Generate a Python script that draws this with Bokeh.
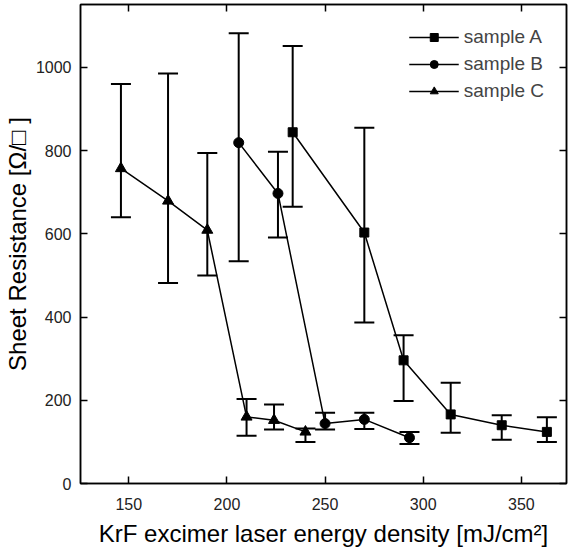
from bokeh.plotting import figure
from bokeh.models import LinearAxis, Whisker, TeeHead, ColumnDataSource, Legend, CustomJSTickFormatter
from bokeh.embed import file_html
from bokeh.resources import INLINE

# data
A_x = [233.5, 270, 290, 314, 340, 363]
A_y = [844, 603, 296, 166, 140, 124]
A_hi = [1051, 855, 356, 242, 164, 159]
A_lo = [665, 387, 198, 122, 105, 100]

B_x = [206, 226, 250, 270, 293]
B_y = [819, 697, 144, 154, 110]
B_hi = [1082, 797, 170, 170, 124]
B_lo = [534, 591, 130, 131, 95]

C_x = [146, 170, 190, 210, 224, 240]
C_y = [757, 679, 609, 160, 152, 124]
C_hi = [960, 985, 794, 203, 190, 132]
C_lo = [640, 482, 500, 115, 130, 100]

x_ticks = [150, 200, 250, 300, 350]
y_ticks = [0, 200, 400, 600, 800, 1000]

FONT = "Liberation Sans"

p = figure(frame_width=486, frame_height=479, x_range=(125.4, 373), y_range=(0, 1151),
           output_backend="svg", toolbar_location=None,
           min_border_left=75, min_border_right=2, min_border_top=4, min_border_bottom=64)
p.grid.visible = False
p.outline_line_color = "black"
p.outline_line_width = 1.5

def style_axis(ax, labels=True):
    ax.axis_line_width = 1.5
    ax.major_tick_in = 7
    ax.major_tick_out = 0
    ax.minor_tick_in = 4
    ax.minor_tick_out = 0
    ax.major_tick_line_width = 1.5
    ax.minor_tick_line_width = 1.5
    ax.major_label_text_font = FONT
    ax.major_label_text_font_size = "16px"
    ax.major_label_text_color = "#222222"
    ax.axis_label_text_font = FONT
    ax.axis_label_text_font_size = "24px"
    ax.axis_label_text_font_style = "normal"
    ax.axis_label_text_color = "black"
    if not labels:
        ax.formatter = CustomJSTickFormatter(code="return ''")
        ax.major_label_standoff = 0

p.xaxis.ticker = x_ticks
p.xaxis.ticker.num_minor_ticks = 2
p.yaxis.ticker = y_ticks
p.yaxis.ticker.num_minor_ticks = 2
p.xaxis.axis_label = "KrF excimer laser energy density [mJ/cm²]"
p.yaxis.axis_label = "Sheet Resistance [Ω/□ ]"
style_axis(p.xaxis[0])
style_axis(p.yaxis[0])
p.xaxis.major_label_standoff = 14
p.yaxis.major_label_standoff = 9
p.xaxis.axis_label_standoff = 7
p.yaxis.axis_label_standoff = 2

top = LinearAxis(ticker=x_ticks)
top.ticker.num_minor_ticks = 2
style_axis(top, labels=False)
right = LinearAxis(ticker=y_ticks)
right.ticker.num_minor_ticks = 2
style_axis(right, labels=False)
p.add_layout(top, "above")
p.add_layout(right, "right")

items = []
for xs, ys, hi, lo, marker, size, label in [
    (A_x, A_y, A_hi, A_lo, "square", 9, "sample A"),
    (B_x, B_y, B_hi, B_lo, "circle", 10, "sample B"),
    (C_x, C_y, C_hi, C_lo, "triangle", 11, "sample C"),
]:
    src = ColumnDataSource(dict(x=xs, y=ys, hi=hi, lo=lo))
    w = Whisker(source=src, base="x", upper="hi", lower="lo",
                line_color="black", line_width=2,
                upper_head=TeeHead(size=20, line_width=2, line_color="black"),
                lower_head=TeeHead(size=20, line_width=2, line_color="black"))
    p.add_layout(w)
    l = p.line("x", "y", source=src, line_color="black", line_width=1.5)
    s = p.scatter("x", "y", source=src, marker=marker, size=size,
                  fill_color="black", line_color="black")
    items.append((label, [l, s]))

leg = Legend(items=items, location="top_right")
leg.border_line_alpha = 0
leg.background_fill_alpha = 0
leg.label_text_font = FONT
leg.label_text_font_size = "19px"
leg.glyph_width = 50
leg.glyph_height = 20
leg.label_height = 20
leg.spacing = 5
leg.padding = 8
leg.margin = 14
leg.label_standoff = 5
p.add_layout(leg)

open("out.html", "w").write(file_html(p, INLINE))
